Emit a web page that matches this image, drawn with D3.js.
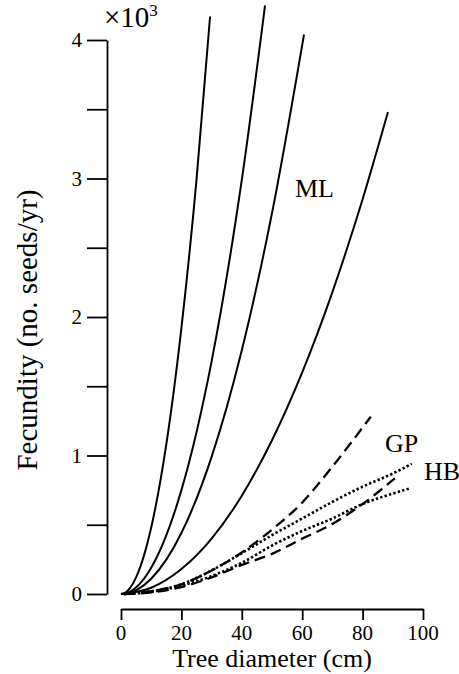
<!DOCTYPE html>
<html>
<head>
<meta charset="utf-8">
<title>Fecundity vs tree diameter</title>
<script src="https://cdn.jsdelivr.net/npm/d3@7"></script>
<style>
  body { margin: 0; background: #fff; }
  svg text { font-family: "Liberation Serif", "Times New Roman", serif; fill: #000; }
  .axis path, .axis line { stroke: #000; stroke-width: 1.8; }
</style>
</head>
<body>
<div id="chart"></div>
<script>
// fecundity in thousands of seeds/yr against diameter (cm)
var mlA = [[0,0],[1,0.005],[5,0.12],[10,0.48],[15,1.08],[20,1.92],[25,2.99],[29.5,4.17]];
var mlB = [[0,0],[1,0.002],[10,0.19],[20,0.75],[30,1.68],[40,2.99],[47.7,4.25]];
var mlC = [[0,0],[1,0.001],[10,0.11],[20,0.44],[30,0.99],[40,1.76],[50,2.75],[60.6,4.04]];
var mlD = [[0,0],[10,0.045],[20,0.18],[30,0.40],[40,0.71],[50,1.11],[60,1.60],[70,2.18],[80,2.85],[88.4,3.48]];
var gpA = [[1,0],[10,0.02],[20,0.07],[30,0.17],[40,0.30],[50,0.465],[60,0.66],[70,0.92],[82.7,1.28]];
var gpB = [[1,0],[10,0.012],[20,0.05],[30,0.12],[40,0.21],[50,0.29],[60,0.40],[70,0.506],[80,0.65],[90.7,0.835]];
var hbA = [[1,0],[10,0.02],[20,0.07],[30,0.17],[40,0.295],[50,0.425],[60,0.545],[70,0.665],[80,0.775],[90,0.87],[96.3,0.94]];
var hbB = [[1,0],[10,0.015],[20,0.06],[30,0.13],[40,0.225],[50,0.35],[60,0.455],[70,0.545],[80,0.65],[90,0.725],[95.7,0.763]];

var xTicks = [0, 20, 40, 60, 80, 100];
var yMajor = [0, 1, 2, 3, 4];
var yMinor = [0.5, 1.5, 2.5, 3.5];

var width = 459, height = 674;
var svg = d3.select("#chart").append("svg")
    .attr("width", width).attr("height", height);

var x = d3.scaleLinear().domain([0, 100]).range([121, 423]);
var y = d3.scaleLinear().domain([0, 4]).range([594, 40]);

// y axis
var yAxis = svg.append("g").attr("class", "axis")
    .attr("transform", "translate(107,0)")
    .call(d3.axisLeft(y).tickValues(yMajor.concat(yMinor)).tickSize(20).tickSizeOuter(0).tickFormat(""));

svg.selectAll(".ylab").data(yMajor).enter().append("text")
    .attr("class", "ylab")
    .attr("x", 82).attr("y", function(d){ return y(d) + 7; })
    .attr("text-anchor", "end")
    .style("font-size", "21px")
    .text(function(d){ return d; });

// x axis, set off below the plot
var xAxis = svg.append("g").attr("class", "axis")
    .attr("transform", "translate(0,609)")
    .call(d3.axisBottom(x).tickValues(xTicks).tickSize(11).tickSizeOuter(0).tickFormat(""));

svg.selectAll(".xlab").data(xTicks).enter().append("text")
    .attr("class", "xlab")
    .attr("x", function(d){ return x(d); }).attr("y", 640)
    .attr("text-anchor", "middle")
    .style("font-size", "21px")
    .text(function(d){ return d; });

svg.append("text")
    .attr("x", 272).attr("y", 667)
    .attr("text-anchor", "middle")
    .style("font-size", "26px")
    .text("Tree diameter (cm)");

svg.append("text")
    .attr("transform", "translate(37,330) rotate(-90)")
    .attr("text-anchor", "middle")
    .style("font-size", "29px")
    .text("Fecundity (no. seeds/yr)");

var mult = svg.append("text").attr("x", 104).attr("y", 27).style("font-size", "29px");
mult.append("tspan").text("\u00d710");
mult.append("tspan").attr("dy", -11).style("font-size", "17px").text("3");

// curves
var line = d3.line()
    .x(function(d){ return x(d[0]); })
    .y(function(d){ return y(d[1]); })
    .curve(d3.curveMonotoneX);

[mlA, mlB, mlC, mlD].forEach(function(s){
  svg.append("path").datum(s).attr("d", line)
    .attr("fill", "none").attr("stroke", "#000").attr("stroke-width", 2);
});
[gpA, gpB].forEach(function(s){
  svg.append("path").datum(s).attr("d", line)
    .attr("fill", "none").attr("stroke", "#000").attr("stroke-width", 2.3)
    .attr("stroke-dasharray", "11,6");
});
[hbA, hbB].forEach(function(s){
  svg.append("path").datum(s).attr("d", line)
    .attr("fill", "none").attr("stroke", "#000").attr("stroke-width", 2.6)
    .attr("stroke-dasharray", "2.4,2.2");
});

// series labels
svg.append("text").attr("x", 295).attr("y", 197).style("font-size", "26px").text("ML");
svg.append("text").attr("x", 385).attr("y", 452).style("font-size", "26px").text("GP");
svg.append("text").attr("x", 424).attr("y", 480).style("font-size", "26px").text("HB");
</script>
</body>
</html>
